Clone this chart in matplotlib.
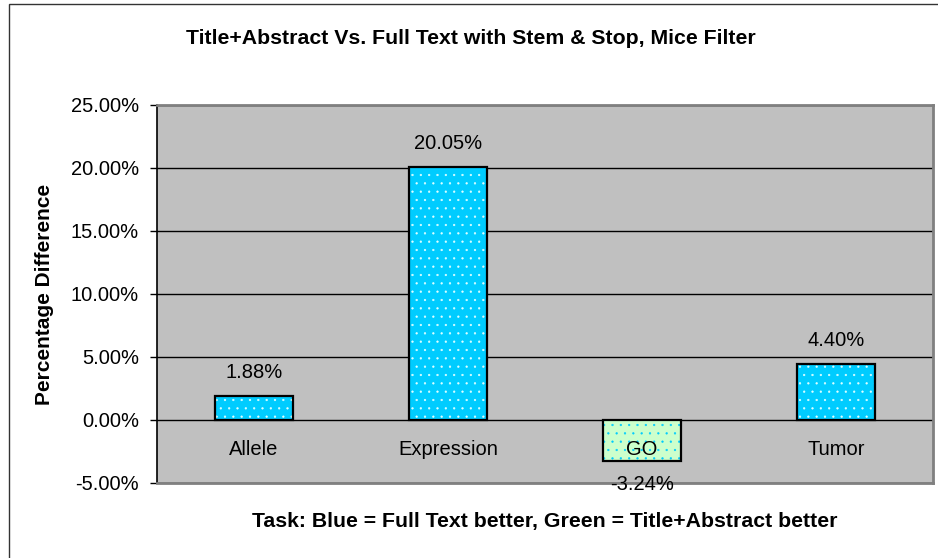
import matplotlib
matplotlib.use("Agg")
import matplotlib.pyplot as plt
from matplotlib.patches import Rectangle
from matplotlib.ticker import FuncFormatter

plt.rcParams['font.family'] = ['Liberation Sans', 'DejaVu Sans']
plt.rcParams['hatch.linewidth'] = 0.4

# task categories and percentage differences (full text minus title+abstract)
tasks = ["Allele", "Expression", "GO", "Tumor"]
diffs = [1.88, 20.05, -3.24, 4.40]
fill_colors = ["#00CCFF", "#00CCFF", "#CCFFCC", "#00CCFF"]
dot_colors = ["#E0FFFF", "#E0FFFF", "#00CCFF", "#E0FFFF"]
yticks = [-5, 0, 5, 10, 15, 20, 25]

fig = plt.figure(figsize=(9.38, 5.58), dpi=100)
fig.patch.set_facecolor("white")

# outer chart border (runs off the right/bottom edges)
fig.patches.append(Rectangle((9 / 938, -0.1), 1.2, 1.1 - 4 / 558,
                             transform=fig.transFigure, fill=False,
                             edgecolor="#333333", linewidth=1.0))

ax = fig.add_axes([157 / 938, 1 - 483 / 558, 776 / 938, 378.5 / 558])
ax.set_facecolor("#C0C0C0")
ax.set_axisbelow(True)

x = list(range(len(tasks)))
width = 0.4

# fill + dotted pattern, then the black outline on top
for xi, v, fc, dc in zip(x, diffs, fill_colors, dot_colors):
    ax.bar(xi, v, width=width, color=fc, edgecolor=dc, hatch="..",
           linewidth=0, zorder=2)
ax.bar(x, diffs, width=width, fill=False, edgecolor="black",
       linewidth=1.6, zorder=3)

for xi, v in zip(x, diffs):
    off = 17 if v >= 0 else -17
    ax.annotate(f"{v:.2f}%", (xi, v), xytext=(0, off),
                textcoords="offset points", ha="center", va="center",
                fontsize=14.5, zorder=4, annotation_clip=False)
    # category names sit just under the zero line
    ax.annotate(tasks[xi], (xi, 0), xytext=(0, -21),
                textcoords="offset points", ha="center", va="center",
                fontsize=14.5, zorder=4)

ax.set_xlim(-0.5, 3.5)
ax.set_ylim(-5, 25)
ax.set_yticks(yticks)
ax.yaxis.set_major_formatter(FuncFormatter(lambda v, p: f"{v:.2f}%"))
ax.tick_params(axis="y", labelsize=14.5, length=5, width=1, pad=8,
               direction="out", colors="black")
ax.set_xticks([])
ax.yaxis.grid(True, color="black", linewidth=1.0)

for side in ["top", "right", "bottom"]:
    ax.spines[side].set_color("#808080")
    ax.spines[side].set_linewidth(2)
ax.spines["left"].set_color("black")
ax.spines["left"].set_linewidth(1.2)

fig.text(471 / 938, 1 - 38 / 558,
         "Title+Abstract Vs. Full Text with Stem & Stop, Mice Filter",
         ha="center", va="center", fontsize=15.3, fontweight="bold")
fig.text(545 / 938, 1 - 521 / 558,
         "Task: Blue = Full Text better, Green = Title+Abstract better",
         ha="center", va="center", fontsize=15.3, fontweight="bold")
fig.text(45 / 938, 1 - 294 / 558, "Percentage Difference",
         ha="center", va="center", rotation=90, fontsize=15,
         fontweight="bold")

fig.savefig("out.png", dpi=100)
